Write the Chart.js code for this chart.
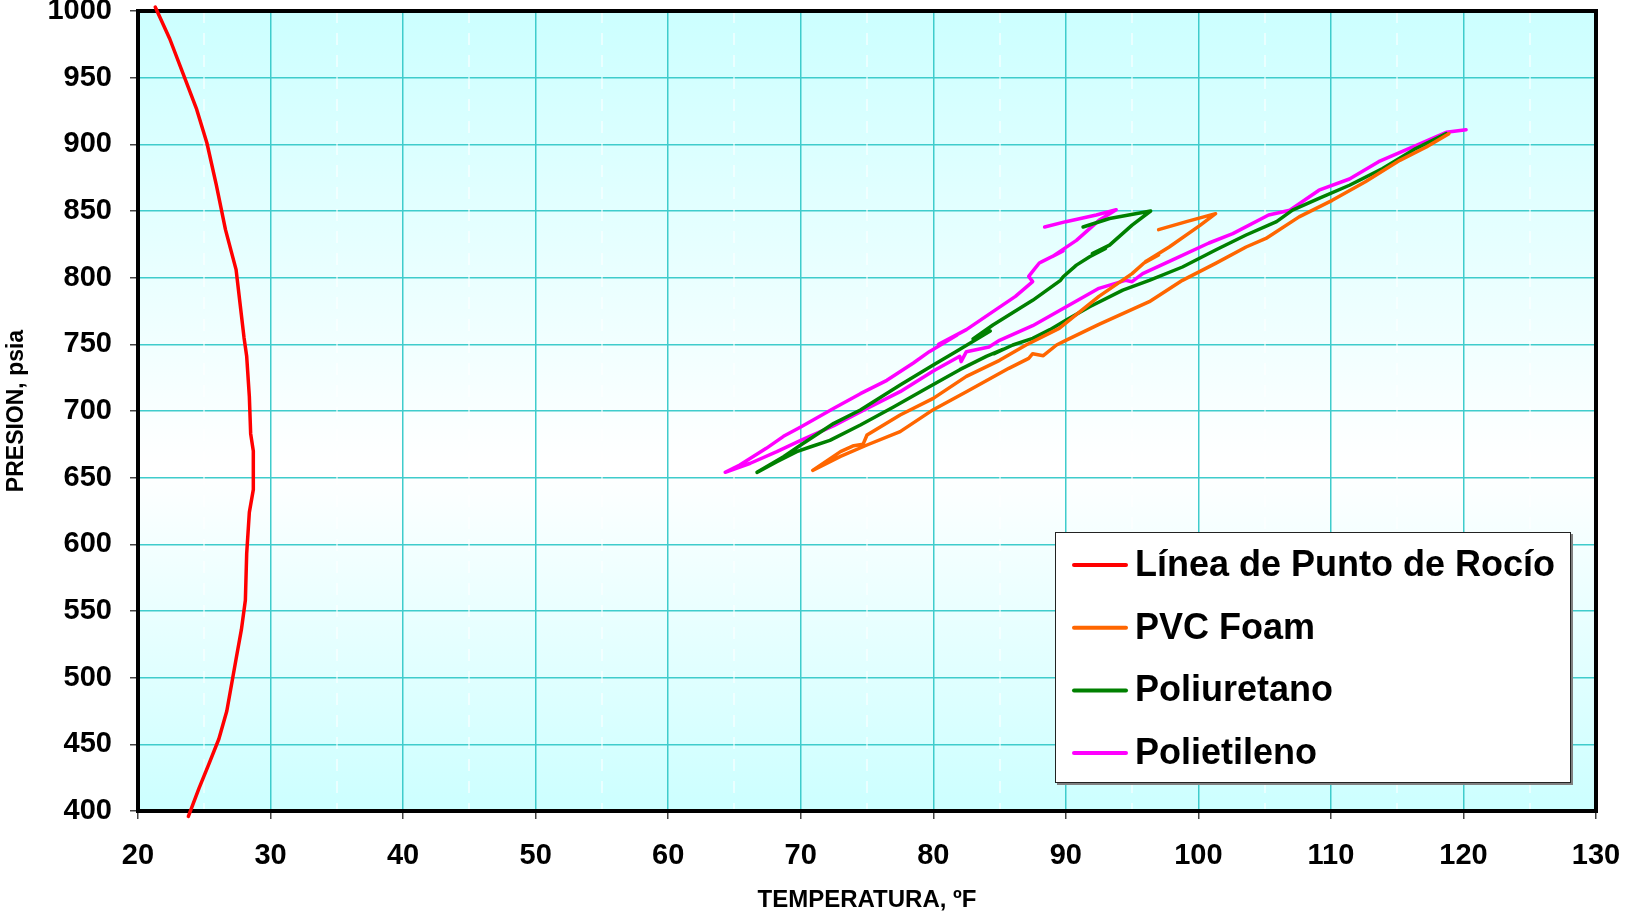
<!DOCTYPE html>
<html>
<head>
<meta charset="utf-8">
<script src="https://cdn.jsdelivr.net/npm/chart.js@4.4.1/dist/chart.umd.min.js"></script>
<style>
  html, body { margin: 0; padding: 0; background: #fff; }
  #wrap { width: 1626px; height: 915px; position: relative; }
</style>
</head>
<body>
<div id="wrap"><canvas id="chartRocio"></canvas></div>
<script>
const seriesNames = ['Línea de Punto de Rocío', 'PVC Foam', 'Poliuretano', 'Polietileno'];
const seriesColors = ['#ff0000', '#ff6600', '#008000', '#ff00ff'];

const xTicks = { min: 20, max: 130, step: 10 };
const yTicks = { min: 400, max: 1000, step: 50 };

// línea de punto de rocío (T ºF, P psia)
const rocioTemp = [21.3, 22.4, 23.4, 24.4, 25.2, 25.9, 26.6, 27.4, 27.8, 28.0, 28.2, 28.4, 28.5, 28.7, 28.7, 28.4, 28.2, 28.1, 27.8, 27.4, 26.7, 26.1, 25.3, 24.6, 23.8];
const rocioPres = [1003, 979, 953, 927, 901, 870, 836, 806, 772, 755, 741, 711, 683, 670, 641, 624, 593, 558, 536, 514, 475, 454, 434, 417, 396];

// PVC Foam
const pvcTemp = [97.0, 99.1, 101.3, 100.1, 97.8, 96.0, 97.0, 95.9, 95.0, 92.5, 89.5, 87.0, 85.0, 82.5, 80.0, 77.5, 75.0, 74.7, 74.0, 73.0, 70.9,
  73.0, 75.0, 77.5, 80.0, 82.5, 85.7, 87.2, 87.5, 88.3, 89.3, 90.0, 92.5, 96.3, 98.8, 101.3, 103.6, 105.1, 107.6, 110.1, 112.6, 115.2, 117.2, 118.9];
const pvcPres = [836, 842, 848, 839, 823, 812, 817, 811, 803, 786, 762, 749.5, 738, 726, 709.5, 697, 682, 675, 674, 669.5, 655.5,
  666, 674.5, 684.5, 701, 714.5, 732, 739.5, 743, 741.5, 749.5, 753, 765, 782, 798, 810.7, 823, 829.4, 845.6, 858, 872, 888, 898, 908];

// Poliuretano
const poliuTemp = [91.3, 93.3, 96.4, 95.0, 93.3, 92.0, 93.0, 91.8, 90.8, 89.8, 89.6, 87.5, 84.5, 83.0, 84.3, 81.7, 80.0, 77.5, 74.5, 72.5, 70.0, 68.7, 66.7,
  68.2, 69.7, 70.7, 72.2, 74.5, 77.0, 79.5, 82.0, 84.0, 85.2, 84.6, 86.0, 87.5, 88.8, 90.0, 91.8, 94.3, 96.3, 98.8, 101.3, 103.6, 105.9, 107.1, 109.1, 111.4, 113.9, 116.4, 118.7];
const poliuPres = [838, 844.4, 850, 839.4, 824.4, 818, 822, 815.7, 809.4, 800.7, 798, 783, 764.5, 754, 760, 744.5, 734.5, 719.5, 700.75, 690.75, 674.5, 665.75, 654,
  662, 669.5, 673, 678, 689.5, 703, 717, 731, 741, 746, 743, 749.5, 754.5, 761, 768, 778.2, 790.7, 798, 808, 820.7, 832, 842, 850.6, 859.4, 869.3, 881.8, 896.8, 908];

// Polietileno
const polieTemp = [88.4, 90.0, 92.3, 93.8, 92.5, 90.8, 89.0, 89.8, 88.2, 88.0, 87.6, 87.2, 87.5, 86.2, 84.5, 82.5, 80.4, 81.8, 79.7, 78.5, 76.5, 74.5, 72.5, 70.0, 68.7, 67.4, 65.4, 64.3,
  66.2, 68.2, 70.0, 72.5, 75.0, 77.5, 80.0, 82.0, 82.1, 82.5, 84.2, 85.0, 87.5, 90.0, 92.5, 94.5, 95.0, 95.8, 98.3, 100.8, 102.6, 105.3, 106.9, 109.1, 111.4, 113.6, 116.4, 118.7, 120.2];
const poliePres = [838, 842, 847, 851, 843, 828, 816, 820, 812, 811, 806, 801, 797, 786, 774.5, 761, 750, 757, 744.5, 736, 723, 713, 702, 688, 681, 672, 659.5, 654,
  660.8, 669.5, 678, 689, 702, 714.5, 730, 741, 737, 744.5, 748, 753, 764, 778, 792, 798, 797, 803, 814.5, 826, 833, 847, 850.6, 865.6, 874, 887, 899, 909, 911];

const pts = (xs, ys) => xs.map((x, i) => ({ x: x, y: ys[i] }));
const fontFam = "'Liberation Sans', Arial, sans-serif";

const lineSet = (i, xs, ys) => ({
  label: seriesNames[i],
  data: pts(xs, ys),
  borderColor: seriesColors[i],
  backgroundColor: seriesColors[i],
  borderWidth: 3.5,
  borderCapStyle: 'round',
  borderJoinStyle: 'round',
  showLine: true,
  pointRadius: 0,
  tension: 0,
  clip: false
});

// fondo degradado, rejilla menor punteada, marco negro y leyenda
const plotFrame = {
  id: 'plotFrame',
  beforeDraw(chart) {
    const { ctx, chartArea: a } = chart;
    const g = ctx.createLinearGradient(0, a.top, 0, a.bottom);
    g.addColorStop(0, '#ccffff');
    g.addColorStop(0.57, '#ffffff');
    g.addColorStop(1, '#ccffff');
    ctx.save();
    ctx.fillStyle = g;
    ctx.fillRect(a.left, a.top, a.right - a.left, a.bottom - a.top);
    ctx.restore();
  },
  beforeDatasetsDraw(chart) {
    const { ctx, chartArea: a, scales } = chart;
    ctx.save();
    ctx.strokeStyle = 'rgba(255,255,255,0.55)';
    ctx.lineWidth = 2;
    ctx.setLineDash([12, 10]);
    for (let t = xTicks.min + xTicks.step / 2; t < xTicks.max; t += xTicks.step) {
      const px = Math.round(scales.x.getPixelForValue(t));
      ctx.beginPath();
      ctx.moveTo(px, a.top);
      ctx.lineTo(px, a.bottom);
      ctx.stroke();
    }
    ctx.setLineDash([]);
    ctx.strokeStyle = '#000';
    ctx.lineWidth = 4;
    ctx.strokeRect(a.left, a.top, a.right - a.left, a.bottom - a.top);
    ctx.restore();
  },
  afterDraw(chart) {
    const { ctx } = chart;
    const bx = 1055, by = 532, bw = 516, bh = 251;
    ctx.save();
    ctx.fillStyle = '#808080';
    ctx.fillRect(bx + 2, by + 2, bw, bh);
    ctx.fillStyle = '#ffffff';
    ctx.fillRect(bx, by, bw, bh);
    ctx.strokeStyle = '#222';
    ctx.lineWidth = 1;
    ctx.strokeRect(bx + 0.5, by + 0.5, bw - 1, bh - 1);
    ctx.font = 'bold 36px ' + fontFam;
    ctx.textBaseline = 'middle';
    ctx.textAlign = 'left';
    chart.data.datasets.forEach((ds, i) => {
      const yy = by + 33 + i * 62.7;
      ctx.strokeStyle = ds.borderColor;
      ctx.lineWidth = 4;
      ctx.lineCap = 'round';
      ctx.beginPath();
      ctx.moveTo(bx + 19, yy);
      ctx.lineTo(bx + 71, yy);
      ctx.stroke();
      ctx.fillStyle = '#000';
      ctx.fillText(ds.label, bx + 80, yy + 1);
    });
    ctx.restore();
  }
};

new Chart(document.getElementById('chartRocio'), {
  type: 'scatter',
  data: {
    datasets: [
      lineSet(0, rocioTemp, rocioPres),
      lineSet(1, pvcTemp, pvcPres),
      lineSet(2, poliuTemp, poliuPres),
      lineSet(3, polieTemp, poliePres)
    ]
  },
  options: {
    responsive: true,
    maintainAspectRatio: false,
    animation: false,
    layout: { padding: { left: 0, right: 30, top: 11, bottom: 0 } },
    plugins: {
      legend: { display: false },
      tooltip: { enabled: false }
    },
    scales: {
      x: {
        type: 'linear',
        min: xTicks.min,
        max: xTicks.max,
        afterFit: s => { s.height = 104; s.paddingLeft = 0; s.paddingRight = 0; },
        border: { display: false },
        grid: { color: '#3fcccc', lineWidth: 1.5, tickLength: 8, tickColor: '#444', tickWidth: 1.5 },
        ticks: {
          stepSize: xTicks.step,
          padding: 20,
          color: '#000',
          font: { family: fontFam, size: 29, weight: 'bold' },
          maxRotation: 0
        },
        title: {
          display: true,
          text: 'TEMPERATURA, ºF',
          color: '#000',
          font: { family: fontFam, size: 24, weight: 'bold' },
          padding: { top: 0, bottom: 0 }
        }
      },
      y: {
        type: 'linear',
        min: yTicks.min,
        max: yTicks.max,
        afterFit: s => { s.width = 138; s.paddingTop = 0; s.paddingBottom = 0; },
        border: { display: false },
        grid: { color: '#3fcccc', lineWidth: 1.5, tickLength: 8, tickColor: '#444', tickWidth: 1.5 },
        ticks: {
          stepSize: yTicks.step,
          padding: 18,
          color: '#000',
          font: { family: fontFam, size: 29, weight: 'bold' },
          callback: v => String(v)
        },
        title: {
          display: true,
          text: 'PRESION, psia',
          color: '#000',
          font: { family: fontFam, size: 23, weight: 'bold' },
          padding: { top: 3, bottom: 0 }
        }
      }
    }
  },
  plugins: [plotFrame]
});
</script>
</body>
</html>
